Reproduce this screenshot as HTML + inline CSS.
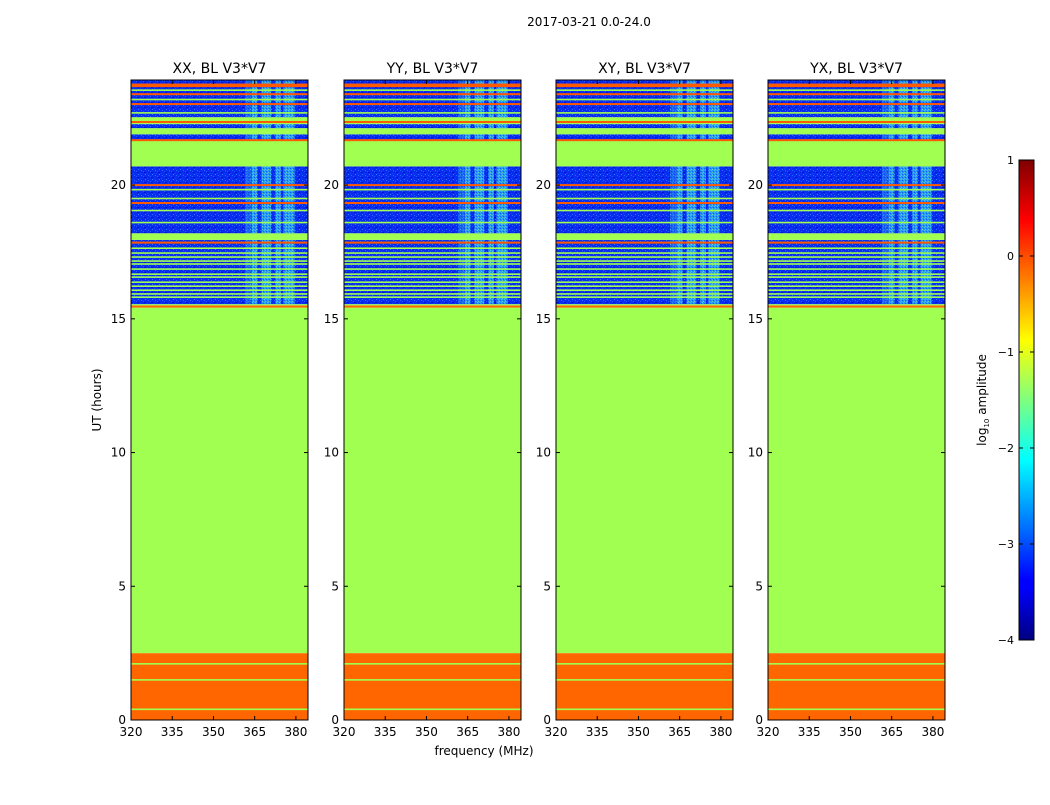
<!DOCTYPE html>
<html><head><meta charset="utf-8"><style>
body{margin:0;background:#fff;font-family:"Liberation Sans","DejaVu Sans",sans-serif}
</style></head><body>
<svg id="fig" width="1050" height="800" viewBox="0 0 1050 800" xmlns="http://www.w3.org/2000/svg" font-family="DejaVu Sans, Liberation Sans, sans-serif">
<defs>
<linearGradient id="jet" x1="0" y1="1" x2="0" y2="0">
<stop offset="0" stop-color="#00007f"/><stop offset="0.11" stop-color="#0000ff"/><stop offset="0.125" stop-color="#0000ff"/>
<stop offset="0.375" stop-color="#00ffff"/><stop offset="0.5" stop-color="#7fff7f"/><stop offset="0.625" stop-color="#ffff00"/>
<stop offset="0.875" stop-color="#ff0000"/><stop offset="1" stop-color="#7f0000"/></linearGradient>
<pattern id="noise" width="7" height="5" patternUnits="userSpaceOnUse">
<rect width="7" height="5" fill="#0a2cf0"/><rect x="1" y="0" width="1" height="1" fill="#2070ff"/><rect x="4" y="2" width="2" height="1" fill="#0414c8"/><rect x="3" y="1" width="1" height="1" fill="#1a5cff"/><rect x="0" y="3" width="1" height="1" fill="#0a48ff"/><rect x="5" y="4" width="1" height="1" fill="#2a80ff"/>
</pattern>
<pattern id="stripe" width="3" height="3" patternUnits="userSpaceOnUse">
<rect width="3" height="3" fill="#30c8ff"/><rect x="1" y="1" width="1" height="1" fill="#90ffa0"/><rect x="2" y="0" width="1" height="1" fill="#1a70ff"/><rect x="0" y="2" width="1" height="1" fill="#60ffd0"/>
</pattern>
</defs>
<text x="589" y="26" font-size="12" text-anchor="middle">2017-03-21 0.0-24.0</text>
<g id="panels"></g>
<text x="484" y="755" font-size="12" text-anchor="middle">frequency (MHz)</text>
<text transform="translate(101,400) rotate(-90)" font-size="12" text-anchor="middle">UT (hours)</text>
<g id="cbar"></g>
</svg>
<script>
const titles=["XX, BL V3*V7","YY, BL V3*V7","XY, BL V3*V7","YX, BL V3*V7"];
const panelLefts=[131,344,556,768];
const xTicks=[320,335,350,365,380];
const yTicks=[0,5,10,15,20];
const cbTicks=[1,0,-1,-2,-3,-4];
// bands: [startHour,endHour,type]
const bands=[[0,2.5,"o"],[2.5,15.42,"g"],[15.42,15.5,"o"],[15.5,15.55,"g"],[15.55,17.95,"n"],[17.95,18.2,"g"],[18.2,20.7,"n"],[20.7,21.68,"g"],[21.68,21.9,"n"],[21.9,22.13,"g"],[22.13,22.28,"n"],[22.28,22.54,"g"],[22.54,23.93,"n"]];
const greenLines=[0.4,1.5,2.1,15.81,15.93,16.07,16.22,16.37,16.56,16.67,16.86,17.05,17.16,17.31,17.46,17.64,18.6,19.05,19.5,19.83,22.7,23.2,23.55];
const orangeLines=[17.85,19.33,20.0,21.68,22.36,23.03,23.4,23.7,23.76];
const stripes=[[361.5,364],[364,366],[367.5,371],[372.5,374.5],[375.5,379.5]];
const SVGNS="http://www.w3.org/2000/svg";
const W=177,top0=80,bot=720,fMin=320,fMax=384.4,hMax=23.93;
const col={o:"#ff6600",g:"#a0ff50",n:"url(#noise)"};
function yS(h){return bot-(h/hMax)*(bot-top0);}
function mk(tag,a,p){const e=document.createElementNS(SVGNS,tag);for(const k in a)e.setAttribute(k,a[k]);p.appendChild(e);return e;}
const root=document.getElementById("panels");
panelLefts.forEach((L,pi)=>{
  const xS=f=>L+(f-fMin)/(fMax-fMin)*W;
  const g=mk("g",{},root);
  
  
  bands.forEach(b=>{
    const r=mk("rect",{x:L,y:yS(b[1]),width:W,height:yS(b[0])-yS(b[1]),fill:col[b[2]]},g);
    
    
    if(b[2]==="n"){stripes.forEach((s,si)=>{
      const sr=mk("rect",{x:xS(s[0]),y:yS(b[1]),width:xS(s[1])-xS(s[0]),height:yS(b[0])-yS(b[1]),fill:"url(#stripe)",opacity:si===0?0.35:0.7},g);
      
      });}
  });
  greenLines.forEach(h=>{const l=mk("rect",{x:L,y:yS(h)-0.8,width:W,height:1.6,fill:"#a0ff50"},g);
    
    });
  orangeLines.forEach(h=>{const l=mk("rect",{x:L,y:yS(h)-1,width:W,height:2,fill:"#ff5a00"},g);
    
    });
  mk("rect",{x:L,y:top0,width:W,height:bot-top0,fill:"none",stroke:"#000","stroke-width":1},g);
  const t=mk("text",{x:L+W/2,y:73,"font-size":14,"text-anchor":"middle"},g);t.textContent=titles[pi];
  
  
  xTicks.forEach(v=>{const x=xS(v);
    mk("line",{x1:x,x2:x,y1:bot,y2:bot-4,stroke:"#000"},g);mk("line",{x1:x,x2:x,y1:top0,y2:top0+4,stroke:"#000"},g);
    const tx=mk("text",{x:x,y:bot+16,"font-size":12,"text-anchor":"middle"},g);tx.textContent=v;
    
    });
  yTicks.forEach(v=>{const y=yS(v);
    mk("line",{x1:L,x2:L+4,y1:y,y2:y,stroke:"#000"},g);mk("line",{x1:L+W,x2:L+W-4,y1:y,y2:y,stroke:"#000"},g);
    const ty=mk("text",{x:L-5,y:y+4,"font-size":12,"text-anchor":"end"},g);ty.textContent=v;
    
    });
});
const cb=document.getElementById("cbar");
const cT=160,cB=640,cL=1019,cW=15;
const cY=v=>cB-(v+4)/5*(cB-cT);
mk("rect",{x:cL,y:cT,width:cW,height:cB-cT,fill:"url(#jet)",stroke:"#000"},cb);
cbTicks.forEach(v=>{const y=cY(v);
  mk("line",{x1:cL,x2:cL+4,y1:y,y2:y,stroke:"#000"},cb);mk("line",{x1:cL+cW,x2:cL+cW-4,y1:y,y2:y,stroke:"#000"},cb);
  const t=mk("text",{x:cL-5,y:y+4,"font-size":11,"text-anchor":"end"},cb);t.textContent=(v<0?"\u2212"+(-v):v);
  
  });
const lab=mk("text",{transform:"translate(986,400) rotate(-90)","font-size":12,"text-anchor":"middle"},cb);
lab.innerHTML='log<tspan font-size="7" dy="3">10</tspan><tspan dy="-3"> amplitude</tspan>';


</script>
</body></html>
